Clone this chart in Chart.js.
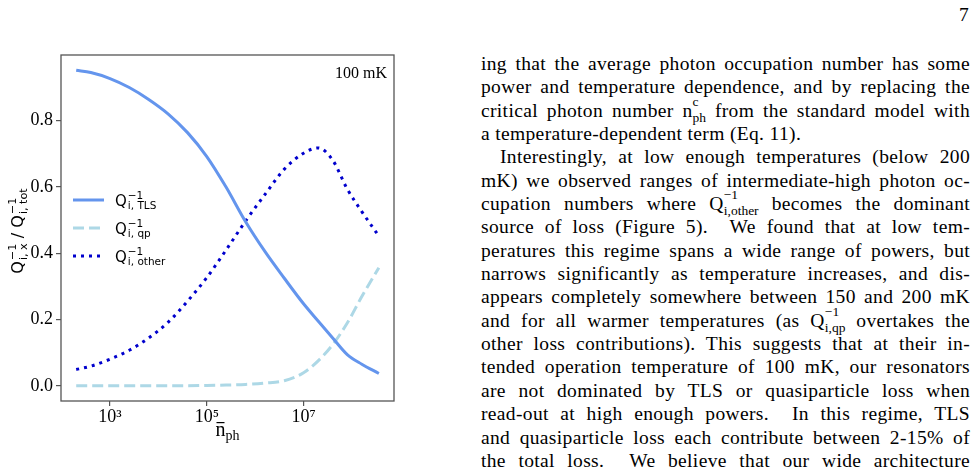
<!DOCTYPE html>
<html>
<head>
<meta charset="utf-8">
<script src="https://cdn.jsdelivr.net/npm/chart.js@4.4.0/dist/chart.umd.min.js"></script>
<style>
  html, body { margin: 0; padding: 0; background: #fff; }
  body { width: 978px; height: 472px; position: relative; overflow: hidden; }
  #chart { position: absolute; left: 0; top: 0; }
  .page { position: absolute; left: 959px; top: 4px; font: 19.5px 'Liberation Serif', serif; }
  .col { position: absolute; left: 481px; top: 52px; width: 489px; font: 19.5px 'Liberation Serif', serif; letter-spacing: 0.35px; line-height: 23.35px; color: #000; }
  .col div { height: 23.35px; text-align: justify; text-align-last: justify; white-space: nowrap; }
  .col div.last { text-align-last: left; }
  .col div.ind { text-indent: 19px; }
  .ss { position: relative; display: inline-block; text-indent: 0; line-height: 10px; letter-spacing: 0; }
  .ss .sb { font-size: 13.5px; position: relative; top: 5px; }
  .ss .sp { font-size: 13.5px; position: absolute; left: 0; top: -9px; }
</style>
</head>
<body>
<canvas id="chart" width="440" height="472"></canvas>
<div class="page">7</div>
<div class="col">
  <div>ing that the average photon occupation number has some</div>
  <div>power and temperature dependence, and by replacing the</div>
  <div>critical photon number n<span class="ss"><span class="sb">ph</span><span class="sp">c</span></span> from the standard model with</div>
  <div class="last">a temperature-dependent term (Eq. 11).</div>
  <div class="ind">Interestingly, at low enough temperatures (below 200</div>
  <div>mK) we observed ranges of intermediate-high photon oc-</div>
  <div>cupation numbers where Q<span class="ss"><span class="sb">i,other</span><span class="sp">−1</span></span> becomes the dominant</div>
  <div>source of loss (Figure 5). &nbsp;We found that at low tem-</div>
  <div>peratures this regime spans a wide range of powers, but</div>
  <div>narrows significantly as temperature increases, and dis-</div>
  <div>appears completely somewhere between 150 and 200 mK</div>
  <div>and for all warmer temperatures (as Q<span class="ss"><span class="sb">i,qp</span><span class="sp">−1</span></span> overtakes the</div>
  <div>other loss contributions). This suggests that at their in-</div>
  <div>tended operation temperature of 100 mK, our resonators</div>
  <div>are not dominated by TLS or quasiparticle loss when</div>
  <div>read-out at high enough powers. &nbsp;In this regime, TLS</div>
  <div>and quasiparticle loss each contribute between 2-15% of</div>
  <div>the total loss. &nbsp;We believe that our wide architecture</div>
</div>
<script>
// photon occupation number (x) and loss fractions
const nPh = [200, 400, 1e3, 2.5e3, 6.3e3, 1.6e4, 4e4, 1e5, 2.5e5, 6.3e5, 1.6e6, 4e6, 1e7, 2e7, 4e7, 8e7, 1.6e8, 3.6e8]
const lossTLS = [0.952, 0.945, 0.927, 0.900, 0.864, 0.820, 0.764, 0.692, 0.600, 0.496, 0.405, 0.325, 0.248, 0.196, 0.145, 0.095, 0.066, 0.038]
const lossQP = [0.001, 0.001, 0.001, 0.001, 0.001, 0.001, 0.001, 0.002, 0.003, 0.005, 0.009, 0.016, 0.040, 0.076, 0.125, 0.190, 0.270, 0.357]
const lossOther = [0.050, 0.060, 0.081, 0.108, 0.145, 0.193, 0.256, 0.327, 0.410, 0.497, 0.578, 0.654, 0.702, 0.718, 0.681, 0.594, 0.526, 0.452]

const xTicks = [1e3, 1e5, 1e7]
const yTicks = [0, 0.2, 0.4, 0.6, 0.8]
const seriesSubs = ['i, TLS', 'i, qp', 'i, other']
const seriesColors = ['#6495ED', '#ADD8E6', '#0000CD']
const seriesDash = [[], [11, 5], [3, 5]]
const tempLabel = '100 mK'

const SANS = "'DejaVu Sans', sans-serif"
const SERIF = "'Liberation Serif', serif"
const FRAME = '#555'
const SUPS = { 0: '⁰', 1: '¹', 2: '²', 3: '³', 4: '⁴', 5: '⁵', 6: '⁶', 7: '⁷', 8: '⁸', 9: '⁹' }

function toPoints(ys) {
  return nPh.map((x, i) => ({ x: x, y: ys[i] }))
}

function qWidth(ctx, sup, sub, size) {
  ctx.font = `${size}px ${SANS}`
  const qw = ctx.measureText('Q').width
  ctx.font = `${size * 0.7}px ${SANS}`
  return qw + 1 + Math.max(ctx.measureText(sup).width, ctx.measureText(sub).width)
}

function drawQ(ctx, x, y, sup, sub, size) {
  ctx.font = `${size}px ${SANS}`
  ctx.fillText('Q', x, y)
  const qw = ctx.measureText('Q').width
  ctx.font = `${size * 0.7}px ${SANS}`
  ctx.fillText(sup, x + qw + 1, y - size * 0.42)
  ctx.fillText(sub, x + qw + 1, y + size * 0.24)
  return qWidth(ctx, sup, sub, size)
}

const decorations = {
  id: 'decorations',
  afterDraw(chart) {
    const { ctx, chartArea: a } = chart
    ctx.save()

    // axes frame
    ctx.strokeStyle = FRAME
    ctx.lineWidth = 1.3
    ctx.strokeRect(a.left, a.top, a.right - a.left, a.bottom - a.top)

    // legend
    ctx.textAlign = 'left'
    ctx.textBaseline = 'alphabetic'
    ctx.fillStyle = '#000'
    seriesSubs.forEach((sub, i) => {
      const y0 = a.top + 145 + i * 28
      ctx.strokeStyle = seriesColors[i]
      ctx.lineWidth = 3
      ctx.lineCap = 'butt'
      ctx.setLineDash(seriesDash[i])
      ctx.beginPath()
      ctx.moveTo(a.left + 12, y0)
      ctx.lineTo(a.left + 43, y0)
      ctx.stroke()
      ctx.setLineDash([])
      drawQ(ctx, a.left + 54, y0 + 5.5, '−1', sub, 15)
    })

    // temperature label
    ctx.font = `16px ${SERIF}`
    ctx.textAlign = 'right'
    ctx.fillText(tempLabel, a.right - 7, a.top + 22.5)

    // y title
    ctx.save()
    ctx.translate(23, 231)
    ctx.rotate(-Math.PI / 2)
    ctx.textAlign = 'left'
    const size = 16
    const w1 = qWidth(ctx, '−1', 'i, x', size)
    ctx.font = `${size}px ${SANS}`
    const slash = ' / '
    const ws = ctx.measureText(slash).width
    const w2 = qWidth(ctx, '−1', 'i, tot', size)
    let x = -(w1 + ws + w2) / 2
    drawQ(ctx, x, 0, '−1', 'i, x', size)
    x += w1
    ctx.font = `${size}px ${SANS}`
    ctx.fillText(slash, x, 0)
    x += ws
    drawQ(ctx, x, 0, '−1', 'i, tot', size)
    ctx.restore()

    // x title
    ctx.textAlign = 'left'
    ctx.font = `20px ${SERIF}`
    const cx = (a.left + a.right) / 2
    const nw = ctx.measureText('n').width
    ctx.font = `14px ${SERIF}`
    const pw = ctx.measureText('ph').width
    const sx = cx - (nw + pw) / 2
    ctx.font = `20px ${SERIF}`
    ctx.fillText('n', sx, 436)
    ctx.fillRect(sx + 1, 422, nw - 2, 1.2)
    ctx.font = `14px ${SERIF}`
    ctx.fillText('ph', sx + nw, 439.5)

    ctx.restore()
  }
}

new Chart(document.getElementById('chart'), {
  type: 'line',
  data: {
    datasets: [
      { data: toPoints(lossTLS), borderColor: seriesColors[0], borderWidth: 3, borderDash: seriesDash[0] },
      { data: toPoints(lossQP), borderColor: seriesColors[1], borderWidth: 3, borderDash: seriesDash[1] },
      { data: toPoints(lossOther), borderColor: seriesColors[2], borderWidth: 3, borderDash: seriesDash[2] },
    ],
  },
  options: {
    responsive: false,
    animation: false,
    devicePixelRatio: 1,
    layout: { padding: { left: 0, top: 55, right: 46, bottom: 0 } },
    elements: {
      point: { radius: 0 },
      line: { cubicInterpolationMode: 'monotone', borderCapStyle: 'butt', fill: false },
    },
    plugins: {
      legend: { display: false },
      tooltip: { enabled: false },
    },
    scales: {
      x: {
        type: 'logarithmic',
        min: 97,
        max: 7.4e8,
        afterBuildTicks: (axis) => { axis.ticks = xTicks.map((v) => ({ value: v })) },
        afterFit: (axis) => { axis.height = 71 },
        ticks: {
          color: '#000',
          font: { family: SERIF, size: 18 },
          padding: 0,
          maxRotation: 0,
          callback: (v) => '10' + String(Math.round(Math.log10(v))).split('').map((d) => SUPS[d]).join(''),
        },
        grid: { drawOnChartArea: false, drawTicks: true, tickLength: 5, color: FRAME, lineWidth: 1.2 },
        border: { display: false },
      },
      y: {
        type: 'linear',
        min: -0.045,
        max: 0.998,
        afterBuildTicks: (axis) => { axis.ticks = yTicks.map((v) => ({ value: v })) },
        afterFit: (axis) => { axis.width = 61 },
        ticks: {
          color: '#000',
          font: { family: SERIF, size: 18 },
          padding: 3,
          callback: (v) => v.toFixed(1),
        },
        grid: { drawOnChartArea: false, drawTicks: true, tickLength: 5, color: FRAME, lineWidth: 1.2 },
        border: { display: false },
      },
    },
  },
  plugins: [decorations],
})
</script>
</body>
</html>
